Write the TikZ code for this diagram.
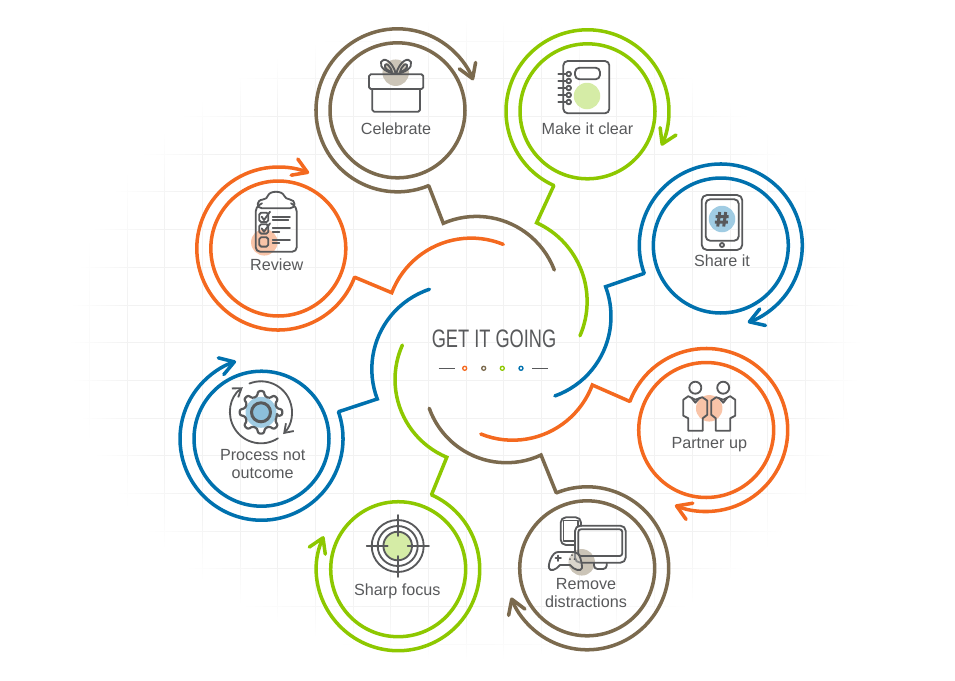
\documentclass[tikz,border=0pt]{standalone}
\usepackage{fontspec}
\setmainfont{Liberation Sans}
\newfontfamily\headfont[FakeStretch=0.72]{Liberation Sans}
\usepackage{tikz}
\usetikzlibrary{arrows.meta,fadings}
\definecolor{orangeline}{HTML}{F4691F}
\definecolor{brownline}{HTML}{7B6A4E}
\definecolor{greenline}{HTML}{8DC800}
\definecolor{blueline}{HTML}{0071AE}
\definecolor{icongrey}{HTML}{58595B}
\definecolor{orangetint}{HTML}{F9C4A8}
\definecolor{browntint}{HTML}{CBC4B7}
\definecolor{greentint}{HTML}{D5ECA6}
\definecolor{bluetint}{HTML}{A0CCE3}
\tikzset{every picture/.style={x=0.02cm,y=0.02cm}}
\tikzset{innerring/.style={draw, circle, minimum size=2.7cm, inner sep=0pt, line width=2pt}}
\tikzset{outerring/.style={line width=2pt, -{Straight Barb[length=2.8mm,width=3.5mm,round]}}}
\tikzset{hubarc/.style={line width=2pt, line cap=round, line join=miter}}
\tikzset{icon/.style={draw=icongrey, line width=1.05pt, line join=round, line cap=round}}
\tikzset{tint/.style={circle, minimum size=0.53cm, inner sep=0pt}}
\tikzset{caption/.style={text=icongrey, font=\fontsize{9.2}{10.3}\selectfont, align=center, inner sep=0pt}}

\begin{document}
\begin{tikzpicture}
\useasboundingbox (0,0) rectangle (955,-680);
% backdrop
\draw[black!5, line width=0.45pt, path fading=circle with fuzzy edge 15 percent]
  \foreach \i in {-7,...,13} {(353.3+37.7*\i,-20) -- (353.3+37.7*\i,-660)}
  \foreach \j in {-5,...,11} {(70,-229.3-37.7*\j) -- (860,-229.3-37.7*\j)};

% rings, each with its link and arc round the hub
\foreach \name/\cx/\cy/\col/\from/\to/\hx/\hy/\hr/\ha/\hb in {
  celebrate/397.5/110.3/brownline/-67.5/-338.4/476.5/299.7/83.3/113.5/20.9,
  makeclear/587.5/111.3/greenline/245.6/-24.9/500.6/301.4/86.5/65.4/-23.4,
  shareit/720.8/245.5/blueline/200/-70.7/526.6/316.4/84.4/20.6/-70.4,
  partner/706.2/430/orangeline/159.5/-112.6/512.7/355.2/85/-20.5/-112,
  remove/587.2/568.3/brownline/112.3/-159/506.4/380.8/81.9/-65/-160.4,
  sharp/398.2/569.2/greenline/65.9/-203.9/479.3/379.5/84.3/-112.7/-204.1,
  process/261.5/438.7/blueline/19.3/-251.8/455.9/369.1/84.1/-159.2/-251.6,
  review/278.3/248.5/orangeline/-20.6/-292.2/471.2/323.2/85.1/159/67.9} {
    \node[innerring, draw=\col] (\name) at (\cx,-\cy) {};
    \draw[outerring, draw=\col] ([shift={(\from:81.5)}]\name.center) coordinate (\name-c)
      arc[start angle=\from, end angle=\to, radius=81.5];
    \draw[hubarc, draw=\col] (\name-c) -- ([shift={(\ha:\hr)}]\hx,-\hy)
      arc[start angle=\ha, end angle=\hb, radius=\hr];
}

% centre title
\node[text=icongrey, font=\headfont\fontsize{14.4}{14.4}\selectfont, inner sep=0pt] (title) at (494,-338.5) {GET IT GOING};
\coordinate (ruleA) at (438.7,-368.3);
\coordinate (ruleB) at (455,-368.3);
\coordinate (ruleC) at (532.3,-368.3);
\coordinate (ruleD) at (548.3,-368.3);
\draw[icongrey, line width=0.7pt] (ruleA) -- (ruleB) (ruleC) -- (ruleD);
\foreach \dotx/\col in {464.7/orangeline,483.7/brownline,502.3/greenline,521/blueline} {
    \node[draw=\col, circle, line width=0.75pt, minimum size=0.08cm, inner sep=0pt] (dot\dotx) at (\dotx,-368.3) {};
}

% captions
\node[caption] (lcelebrate) at (396,-128.3) {Celebrate};
\node[caption] (lmakeclear) at (587.5,-128.3) {Make it clear};
\node[caption] (lshareit) at (722,-261) {Share it};
\node[caption] (lpartner) at (709.3,-444.3) {Partner up};
\node[caption] (lremove) at (586,-593) {Remove\\distractions};
\node[caption] (lsharp) at (397.3,-591) {Sharp focus};
\node[caption] (lprocess) at (262.7,-464) {Process not\\outcome};
\node[caption] (lreview) at (276.7,-265) {Review};

% gift
\node[tint, fill=browntint] (tintA) at (395.7,-72.7) {};
\draw[icon, rounded corners=1pt] (369,-74.3) rectangle (423.3,-89);
\draw[icon, rounded corners=1pt] (372.3,-89) -- (372.3,-111.7) -- (420,-111.7) -- (420,-89);
\draw[icon] (396,-74) .. controls (388,-73) and (379,-68) .. (381,-62) .. controls (383,-57) and (392,-60) .. (396,-74);
\draw[icon] (396,-74) .. controls (404,-73) and (413,-68) .. (411,-62) .. controls (409,-57) and (400,-60) .. (396,-74);
\draw[icon] (392,-72) .. controls (388,-71) and (384,-68) .. (385,-65) .. controls (386,-63) and (390,-65) .. (392,-72);
\draw[icon] (400,-72) .. controls (404,-71) and (408,-68) .. (407,-65) .. controls (406,-63) and (402,-65) .. (400,-72);

% notebook
\node[tint, fill=greentint] (tintB) at (587,-96) {};
\draw[icon, rounded corners=2.5] (563.3,-61) rectangle (609.3,-113.3);
\draw[icon, rounded corners=2.5] (575,-67.7) rectangle (600,-79.3);
\foreach \ry in {74,81,88,95,102} {
    \draw[icon] (558.3,-\ry) -- (566.5,-\ry);
    \draw[icon, fill=white] (568.7,-\ry) circle (2.3);
}

% tablet
\node[tint, fill=bluetint] (tintC) at (722,-219) {};
\draw[icon, rounded corners=3] (701.7,-195) rectangle (742.3,-250);
\draw[icon, rounded corners=2.5] (705.7,-199.3) rectangle (738.7,-240.7);
\draw[icon] (722,-245) circle (2);
\draw[icon, line width=1.7pt, line cap=butt] (719.7,-212) -- (717.7,-226.5) (725.7,-212) -- (723.7,-226.5) (715.5,-216.5) -- (728.5,-216.5) (714.8,-222) -- (727.8,-222);

% partners
\node[tint, fill=orangetint] (tintD) at (709.2,-408.3) {};
\foreach \px/\sx in {695.3/1,723.2/-1} {
  \begin{scope}[shift={(\px,-387.7)}, xscale=\sx]
    \draw[icon] (0,0) circle (6);
    \draw[icon] (-7,-43) -- (7.4,-43) -- (7.4,-30.6) -- (12,-27) -- (12,-13) -- (7,-9.5) -- (0,-12) -- (-7,-8.5) -- (-12,-12) -- (-12,-28) -- (-7,-30.6) -- cycle;
    \draw[icon] (-4,-10) -- (0,-15) -- (4,-10.5);
  \end{scope}
}

% screens and pad
\node[tint, fill=browntint] (tintE) at (581.7,-562.3) {};
\draw[icon, rounded corners=3] (575,-545) -- (560.7,-545) -- (560.7,-517.3) -- (581,-517.3) -- (581,-526);
\draw[icon] (563.5,-520.5) -- (578,-520.5) -- (578,-526) (563.5,-520.5) -- (563.5,-541) -- (574,-541);
\draw[icon, rounded corners=3] (575,-525.7) rectangle (625.7,-562.7);
\draw[icon, rounded corners=1.5] (578.3,-529.3) rectangle (622.3,-556);
\draw[icon, rounded corners=2] (594,-562.7) -- (594,-569) -- (606.7,-569) -- (606.7,-562.7);
\draw[icon, fill=white, fill opacity=0.3] (558,-552) .. controls (552,-552) and (548,-564) .. (549,-568) .. controls (550,-572) and (556,-570) .. (560,-565) -- (570,-565) .. controls (574,-570) and (581,-572) .. (582,-568) .. controls (582,-562) and (580,-552) .. (574,-552) -- cycle;
\draw[icon] (555.5,-558.3) -- (561,-558.3) (558.3,-555.5) -- (558.3,-561);
\foreach \ex/\ey in {572/-555,570/-559,574.5/-559} { \fill[icongrey] (\ex,\ey) circle (1); }

% target
\node[tint, fill=greentint, minimum size=0.56cm] (tintF) at (397.7,-546) {};
\foreach \rr in {14.3,20,26} { \draw[icon] (tintF.center) circle (\rr); }
\draw[icon] (366.7,-546) -- (387.7,-546) (407.7,-546) -- (429,-546) (397.7,-515) -- (397.7,-536) (397.7,-556) -- (397.7,-577);

% gear
\node[tint, fill=bluetint, minimum size=0.62cm] (tintG) at (261,-412.3) {};
\begin{scope}[shift={(261,-412.3)}]
\draw[icon, line width=1.25pt, rounded corners=1.2] (-13:16.5)
  \foreach \t in {0,45,...,315} { -- (\t-13:16.5) -- (\t-8:21.5) -- (\t+8:21.5) -- (\t+13:16.5) } -- cycle;
\draw[icon, line width=1.7pt, fill=blueline!45] (0,0) circle (9.5);
\draw[icon, -{Straight Barb[length=1.6mm,width=2.2mm]}] (112:31) arc[start angle=112, end angle=-44.5, radius=31];
\draw[icon, -{Straight Barb[length=1.6mm,width=2.2mm]}] (-57:31) arc[start angle=-57, end angle=-234, radius=31];
\end{scope}

% clipboard
\node[tint, fill=orangetint] (tintH) at (264.3,-242.3) {};
\draw[icon, rounded corners=2.5] (262,-203.3) -- (255.7,-207) -- (255.7,-251.7) -- (296.7,-251.7) -- (296.7,-207) -- (291,-203.3);
\draw[icon] (262,-208.3) .. controls (256,-208.3) and (256,-200) .. (263,-199.5) .. controls (266,-199) and (267,-198) .. (268,-195.5) .. controls (270,-190.5) and (282,-190.5) .. (284,-195.5) .. controls (285,-198) and (287,-199) .. (290,-199.5) .. controls (296,-200) and (296,-208.3) .. (290,-208.3) -- cycle;
\foreach \by in {212.7,224.3,237.3} { \draw[icon, rounded corners=1] (259.3,-\by) rectangle +(9,-9.3); }
\foreach \by in {0,11.7} { \draw[icon] (261.7,-216.7-\by) -- (264,-220-\by) -- (270,-211.7-\by); }
\draw[icon] (272.7,-216.7) -- (290,-216.7) (272.7,-220) -- (288.3,-220) (272.7,-228.3) -- (290,-228.3) (272.7,-231.7) -- (279.3,-231.7) (272.7,-240) -- (290,-240) (272.7,-243.3) -- (279.3,-243.3);
\end{tikzpicture}
\end{document}
